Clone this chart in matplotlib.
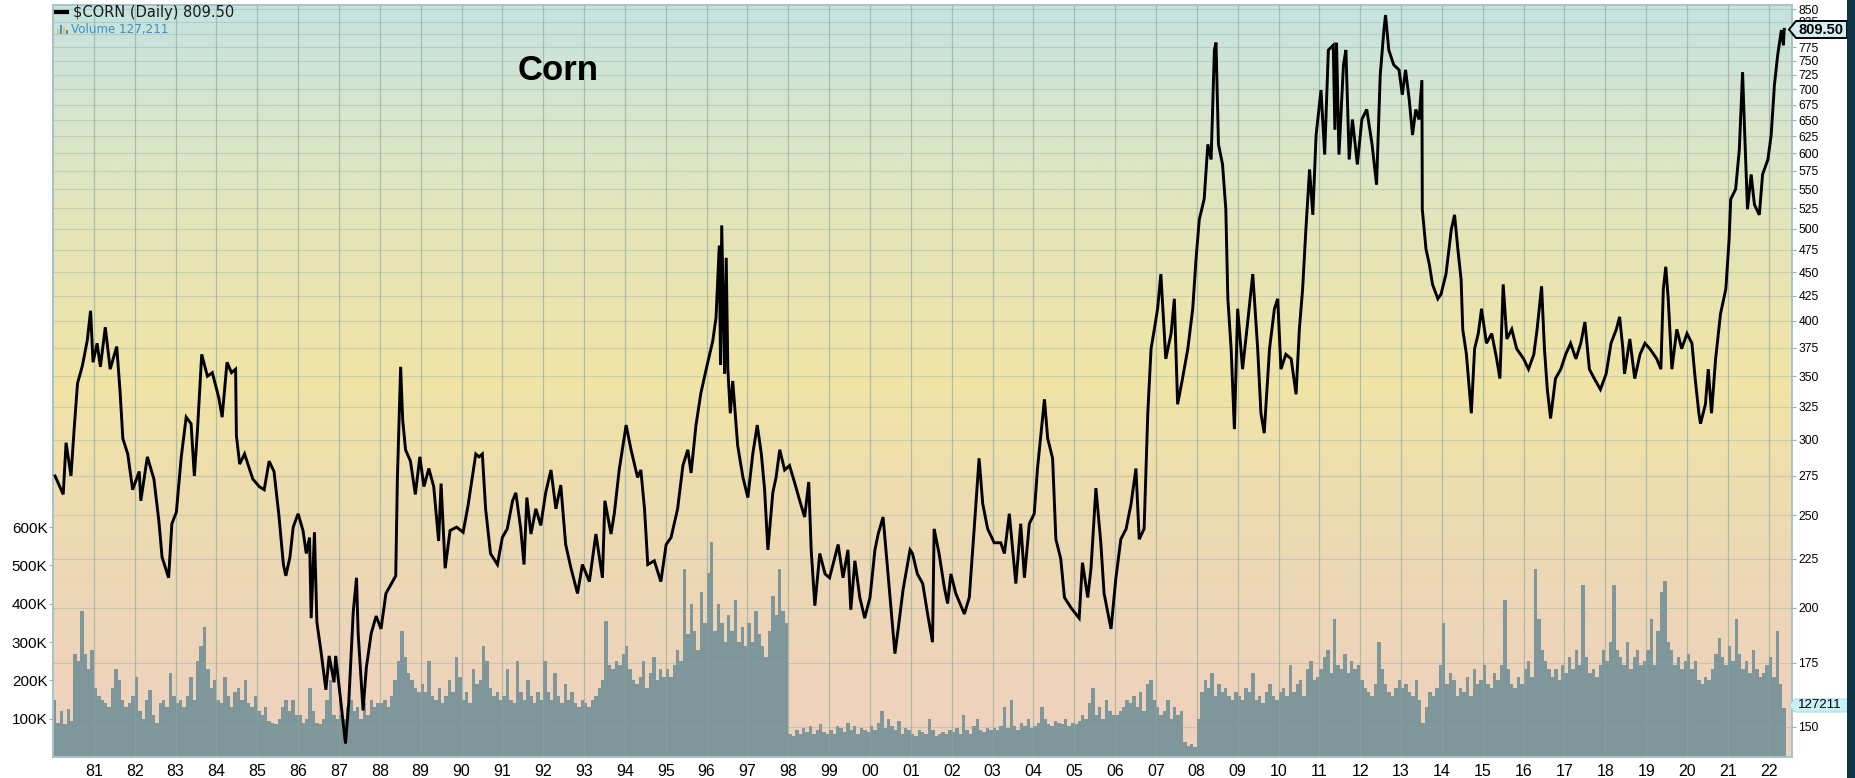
"""Corn daily price (log scale) with volume bars, StockCharts-style."""

import matplotlib
matplotlib.use("Agg")
import matplotlib.pyplot as plt
import numpy as np
from matplotlib.colors import LinearSegmentedColormap
from matplotlib.patches import Polygon, Rectangle
from matplotlib.ticker import FixedLocator, NullLocator, NullFormatter

W_PX, H_PX = 1855, 778

# --- price path (decimal year, cents/bushel) ---------------------------------
PRICE_T = [
    1980.05, 1980.25, 1980.32, 1980.44, 1980.52, 1980.60, 1980.72, 1980.84, 1980.92, 1980.98,
    1981.08, 1981.16, 1981.28, 1981.40, 1981.56, 1981.64, 1981.71, 1981.83, 1981.95,
    1982.11, 1982.15, 1982.31, 1982.47, 1982.59, 1982.67, 1982.83, 1982.91,
    1983.02, 1983.14, 1983.26, 1983.38, 1983.46, 1983.54, 1983.64, 1983.78, 1983.90,
    1984.06, 1984.14, 1984.26, 1984.37, 1984.47, 1984.49, 1984.57, 1984.69, 1984.89,
    1985.05, 1985.17, 1985.29, 1985.41, 1985.53, 1985.64, 1985.70, 1985.80, 1985.88,
    1986.00, 1986.12, 1986.20, 1986.28, 1986.32, 1986.40, 1986.46, 1986.56, 1986.68, 1986.76, 1986.88, 1986.92,
    1987.04, 1987.16, 1987.24, 1987.35, 1987.43, 1987.47, 1987.59, 1987.67, 1987.79, 1987.91,
    1988.03, 1988.15, 1988.31, 1988.39, 1988.43, 1988.51, 1988.56, 1988.63, 1988.75, 1988.87, 1988.98,
    1989.08, 1989.20, 1989.32, 1989.44, 1989.50, 1989.60, 1989.72, 1989.88,
    1990.04, 1990.16, 1990.35, 1990.43, 1990.51, 1990.59, 1990.71, 1990.88,
    1991.00, 1991.12, 1991.25, 1991.33, 1991.45, 1991.53, 1991.60, 1991.70, 1991.82, 1991.94,
    1992.06, 1992.19, 1992.31, 1992.43, 1992.55, 1992.68, 1992.84, 1992.96,
    1993.13, 1993.29, 1993.45, 1993.51, 1993.66, 1993.74, 1993.86,
    1994.03, 1994.15, 1994.31, 1994.39, 1994.48, 1994.56, 1994.72, 1994.88,
    1995.01, 1995.13, 1995.29, 1995.42, 1995.54, 1995.62, 1995.74, 1995.86, 1995.99,
    1996.15, 1996.23, 1996.31, 1996.34, 1996.37, 1996.44, 1996.48, 1996.52, 1996.58, 1996.64, 1996.76, 1996.89,
    1997.01, 1997.13, 1997.24, 1997.34, 1997.42, 1997.50, 1997.62, 1997.70, 1997.79, 1997.91,
    1998.03, 1998.15, 1998.28, 1998.40, 1998.50, 1998.56, 1998.65, 1998.77, 1998.90,
    1999.01, 1999.22, 1999.34, 1999.46, 1999.53, 1999.63, 1999.75, 1999.87,
    2000.00, 2000.12, 2000.20, 2000.32, 2000.44, 2000.61, 2000.69, 2000.81, 2000.98,
    2001.04, 2001.16, 2001.29, 2001.41, 2001.53, 2001.57, 2001.69, 2001.82, 2001.90, 2001.98,
    2002.10, 2002.31, 2002.43, 2002.55, 2002.67, 2002.76, 2002.88,
    2003.04, 2003.20, 2003.29, 2003.41, 2003.57, 2003.69, 2003.78, 2003.90,
    2004.02, 2004.10, 2004.27, 2004.35, 2004.47, 2004.55, 2004.67, 2004.76, 2004.92,
    2005.12, 2005.20, 2005.33, 2005.41, 2005.49, 2005.53, 2005.65, 2005.73, 2005.90,
    2006.02, 2006.14, 2006.27, 2006.39, 2006.51, 2006.59, 2006.71, 2006.80, 2006.88, 2006.96,
    2007.04, 2007.12, 2007.24, 2007.37, 2007.45, 2007.53, 2007.65, 2007.78, 2007.90, 2007.98,
    2008.06, 2008.18, 2008.27, 2008.35, 2008.43, 2008.47, 2008.53, 2008.63, 2008.71, 2008.76, 2008.84, 2008.92,
    2009.00, 2009.12, 2009.24, 2009.37, 2009.49, 2009.57, 2009.65, 2009.78, 2009.90, 2009.98,
    2010.06, 2010.18, 2010.31, 2010.43, 2010.51, 2010.59, 2010.67, 2010.76, 2010.84, 2010.92,
    2011.04, 2011.13, 2011.22, 2011.34, 2011.38, 2011.42, 2011.48, 2011.59, 2011.65, 2011.73, 2011.81, 2011.93,
    2012.04, 2012.16, 2012.29, 2012.40, 2012.45, 2012.49, 2012.58, 2012.62, 2012.70, 2012.82, 2012.95,
    2013.03, 2013.11, 2013.20, 2013.28, 2013.36, 2013.44, 2013.51, 2013.52, 2013.61, 2013.69, 2013.77, 2013.90, 2013.98,
    2014.10, 2014.23, 2014.31, 2014.39, 2014.47, 2014.51, 2014.60, 2014.72, 2014.80, 2014.89, 2014.97,
    2015.09, 2015.22, 2015.34, 2015.42, 2015.50, 2015.59, 2015.71, 2015.83,
    2016.00, 2016.12, 2016.25, 2016.33, 2016.44, 2016.51, 2016.58, 2016.66, 2016.78, 2016.91,
    2017.03, 2017.15, 2017.28, 2017.40, 2017.50, 2017.61, 2017.73, 2017.88,
    2018.02, 2018.14, 2018.27, 2018.35, 2018.43, 2018.47, 2018.60, 2018.72, 2018.85, 2018.97,
    2019.09, 2019.26, 2019.36, 2019.42, 2019.48, 2019.54, 2019.63, 2019.75, 2019.87,
    2020.00, 2020.12, 2020.20, 2020.29, 2020.33, 2020.45, 2020.52, 2020.60, 2020.70, 2020.82, 2020.95,
    2021.03, 2021.07, 2021.19, 2021.28, 2021.36, 2021.40, 2021.48, 2021.57, 2021.65, 2021.77, 2021.85, 2021.98,
    2022.06, 2022.14, 2022.22, 2022.31, 2022.36, 2022.38,
]
PRICE = [
    275, 263, 298, 275, 309, 344, 359, 382, 410, 362,
    379, 358, 394, 356, 376, 338, 301, 290, 266,
    278, 259, 288, 273, 247, 226, 215, 245,
    252, 288, 317, 312, 275, 309, 369, 350, 353,
    332, 317, 362, 353, 356, 303, 283, 290, 273,
    268, 266, 285, 278, 250, 222, 216, 226, 243,
    251, 241, 228, 237, 195, 240, 193, 180, 164, 178, 167, 178,
    160, 144, 159, 198, 215, 188, 156, 173, 188, 196,
    190, 207, 213, 216, 273, 358, 315, 293, 285, 263, 288,
    268, 280, 268, 235, 270, 220, 241, 243,
    240, 256, 290, 288, 290, 254, 228, 222,
    237, 242, 259, 264, 242, 222, 261, 239, 254, 244,
    264, 279, 254, 269, 233, 220, 207, 222,
    213, 239, 215, 259, 239, 251, 279,
    311, 293, 274, 279, 254, 222, 224, 213,
    233, 237, 254, 282, 293, 277, 311, 336, 356,
    381, 403, 480, 360, 504, 352, 466, 356, 320, 346, 296, 274,
    261, 290, 311, 290, 266, 230, 264, 274, 293, 279,
    282, 271, 259, 249, 271, 230, 201, 228, 217,
    215, 233, 215, 230, 199, 224, 205, 195,
    205, 230, 239, 249, 217, 179, 190, 209, 230,
    228, 217, 212, 197, 184, 242, 228, 210, 202, 217,
    207, 197, 205, 242, 287, 257, 242,
    234, 234, 228, 251, 212, 245, 215, 245,
    251, 280, 331, 301, 287, 236, 225, 205, 200,
    195, 223, 205, 220, 251, 267, 234, 207, 190,
    215, 236, 242, 257, 280, 236, 242, 320, 374, 392,
    412, 448, 365, 388, 422, 327, 348, 374, 412, 464,
    511, 537, 613, 591, 770, 784, 613, 584, 524, 422, 374, 308,
    412, 356, 397, 448, 374, 320, 305, 374, 412, 422,
    356, 369, 365, 335, 392, 432, 499, 577, 517, 627,
    699, 598, 770, 779, 635, 784, 598, 743, 770, 591, 651, 584,
    651, 667, 613, 556, 643, 725, 808, 838, 770, 743, 734,
    691, 734, 683, 627, 667, 651, 716, 524, 476, 459, 437, 422, 427,
    448, 499, 517, 476, 442, 392, 369, 320, 374, 388, 412,
    379, 388, 365, 348, 437, 383, 392, 374,
    365, 356, 369, 392, 435, 374, 339, 316, 348, 356,
    369, 379, 365, 379, 399, 356, 348, 339,
    352, 379, 392, 404, 374, 352, 383, 348, 369, 379,
    374, 365, 356, 432, 456, 422, 356, 392, 374,
    388, 379, 348, 320, 312, 327, 356, 320, 365, 407, 432,
    487, 537, 550, 605, 730, 651, 524, 570, 530, 517, 570, 591,
    627, 708, 761, 808, 779, 809.5,
]

# --- monthly volume in thousands of contracts, one row per year --------------
VOLUME_START = 1980.0
VOLUME_K = [
    [150, 90, 120, 85, 125, 95, 270, 250, 380, 270, 230, 280],    # 1980
    [180, 160, 150, 140, 130, 180, 230, 200, 150, 130, 140, 160],  # 1981
    [210, 120, 100, 150, 175, 110, 90, 140, 150, 130, 220, 160],   # 1982
    [140, 150, 130, 160, 210, 150, 250, 290, 340, 230, 180, 200],  # 1983
    [150, 140, 210, 160, 130, 170, 180, 150, 200, 140, 130, 160],  # 1984
    [120, 110, 130, 95, 90, 85, 100, 130, 150, 120, 150, 110],     # 1985
    [110, 90, 100, 180, 120, 90, 85, 100, 150, 200, 110, 100],     # 1986
    [110, 100, 130, 150, 120, 130, 100, 140, 110, 150, 130, 140],  # 1987
    [140, 150, 130, 160, 200, 250, 330, 260, 220, 200, 180, 170],  # 1988
    [190, 170, 250, 160, 150, 180, 140, 160, 200, 170, 260, 210],  # 1989
    [150, 170, 140, 230, 190, 200, 290, 250, 180, 160, 170, 150],  # 1990
    [160, 230, 150, 140, 250, 170, 150, 200, 160, 140, 170, 150],  # 1991
    [250, 170, 150, 220, 160, 140, 190, 150, 170, 140, 130, 150],  # 1992
    [140, 130, 150, 160, 180, 200, 355, 240, 230, 250, 240, 270],  # 1993
    [290, 230, 200, 190, 210, 250, 180, 220, 260, 200, 230, 210],  # 1994
    [230, 210, 240, 280, 250, 490, 320, 400, 330, 280, 430, 350],  # 1995
    [480, 560, 330, 400, 350, 300, 370, 330, 410, 300, 340, 290],  # 1996
    [350, 300, 380, 320, 290, 260, 330, 420, 370, 490, 380, 350],  # 1997
    [60, 55, 70, 60, 75, 65, 80, 60, 70, 85, 65, 60],              # 1998
    [70, 60, 80, 75, 65, 90, 70, 80, 60, 75, 70, 65],              # 1999
    [80, 70, 90, 120, 75, 100, 80, 70, 95, 60, 75, 70],            # 2000
    [60, 55, 70, 65, 60, 100, 70, 55, 60, 65, 60, 70],             # 2001
    [65, 75, 60, 110, 70, 60, 80, 100, 70, 65, 75, 70],            # 2002
    [75, 70, 80, 130, 75, 150, 80, 70, 90, 80, 100, 75],           # 2003
    [80, 90, 130, 100, 85, 80, 95, 90, 85, 100, 80, 90],           # 2004
    [85, 95, 110, 100, 140, 180, 110, 130, 100, 150, 120, 110],    # 2005
    [110, 120, 130, 150, 140, 160, 130, 170, 120, 190, 200, 150],  # 2006
    [130, 110, 120, 150, 100, 130, 110, 120, 40, 30, 35, 25],      # 2007
    [100, 170, 200, 180, 220, 160, 190, 170, 180, 160, 150, 170],  # 2008
    [160, 150, 180, 170, 220, 150, 160, 140, 170, 190, 160, 150],  # 2009
    [170, 180, 160, 240, 170, 190, 200, 160, 230, 250, 200, 210],  # 2010
    [230, 260, 280, 220, 360, 240, 230, 270, 220, 250, 230, 240],  # 2011
    [200, 180, 170, 160, 190, 300, 230, 190, 170, 160, 180, 200],  # 2012
    [180, 190, 170, 160, 200, 150, 90, 130, 170, 160, 180, 240],   # 2013
    [350, 190, 220, 200, 160, 180, 170, 210, 160, 230, 190, 200],  # 2014
    [240, 190, 180, 220, 200, 240, 410, 230, 190, 180, 210, 190],  # 2015
    [230, 250, 210, 490, 360, 280, 250, 230, 210, 230, 200, 240],  # 2016
    [220, 260, 230, 280, 240, 450, 260, 220, 230, 210, 240, 280],  # 2017
    [250, 300, 450, 280, 260, 240, 300, 230, 260, 280, 240, 250],  # 2018
    [280, 360, 240, 330, 430, 460, 300, 280, 240, 260, 230, 250],  # 2019
    [270, 230, 250, 200, 190, 210, 200, 230, 270, 310, 260, 240],  # 2020
    [290, 250, 360, 270, 230, 250, 220, 280, 230, 210, 220, 240],  # 2021
    [260, 210, 330, 190, 127],                                     # 2022
]

YEARS = list(range(1981, 2023))
PRICE_TICKS = list(range(150, 851, 25))
HIDDEN_TICKS = {800}          # sits under the last-price flag
VOL_TICKS = [100, 200, 300, 400, 500, 600]

LAST_PRICE = "809.50"
LAST_VOLUME = "127211"

# palette
BG_STOPS = [(0.0, "#efd1bf"), (0.25, "#ecd8b5"), (0.50, "#f0e4a6"),
            (0.72, "#e3e5bb"), (0.87, "#d5e5cf"), (1.0, "#c5e3e0")]
VOL_COLOR = "#7f979b"
GRID_COLOR = "#8aa69c"
FRAME_COLOR = "#a6c3c9"


def px(x, y):
    """pixel (from top-left) -> figure fraction"""
    return x / W_PX, 1 - y / H_PX


def main():
    fig = plt.figure(figsize=(W_PX / 100, H_PX / 100), dpi=100)
    fig.patch.set_facecolor("white")

    left, right, top, bottom = 53, 1792, 5, 757
    ax_v = fig.add_axes([left / W_PX, 1 - bottom / H_PX,
                         (right - left) / W_PX, (bottom - top) / H_PX])

    # gradient background
    cmap = LinearSegmentedColormap.from_list("bg", BG_STOPS)
    grad = np.linspace(0, 1, 256).reshape(-1, 1)
    ax_v.imshow(grad, cmap=cmap, origin="lower", aspect="auto",
                extent=(0, 1, 0, 1), transform=ax_v.transAxes, zorder=0)

    # volume bars
    vols = [v for row in VOLUME_K for v in row]
    vt = VOLUME_START + np.arange(len(vols)) / 12
    ax_v.bar(vt, vols, width=1 / 12, align="edge", color=VOL_COLOR,
             linewidth=0, zorder=1)

    ax_v.set_xlim(1980.0, 2022.57)
    ax_v.set_ylim(0, 1963)
    ax_v.set_xticks(YEARS)
    ax_v.set_xticklabels([f"{y % 100:02d}" for y in YEARS])
    ax_v.set_yticks(VOL_TICKS)
    ax_v.set_yticklabels([f"{v}K" for v in VOL_TICKS])
    ax_v.set_axisbelow(False)
    ax_v.grid(axis="x", color=GRID_COLOR, linewidth=0.9, alpha=0.6, zorder=2)
    ax_v.tick_params(axis="x", length=0, pad=5, labelsize=11.5)
    ax_v.tick_params(axis="y", length=3, width=0.8, color="#9ab",
                     pad=1, labelsize=11)
    for lab in ax_v.get_xticklabels() + ax_v.get_yticklabels():
        lab.set_fontfamily("Liberation Sans")

    # price on log scale, right axis
    ax_p = ax_v.twinx()
    ax_p.set_yscale("log")
    ax_p.set_ylim(139.4, 858.6)
    ax_p.yaxis.set_major_locator(FixedLocator(PRICE_TICKS))
    ax_p.set_yticklabels(["" if t in HIDDEN_TICKS else str(t)
                          for t in PRICE_TICKS])
    ax_p.yaxis.set_minor_locator(NullLocator())
    ax_p.yaxis.set_minor_formatter(NullFormatter())
    ax_p.set_axisbelow(True)
    ax_p.grid(axis="y", color=GRID_COLOR, linewidth=0.8, alpha=0.35)
    ax_p.tick_params(axis="y", length=3, width=0.8, color="#9ab",
                     pad=1.5, labelsize=8.7)
    for lab in ax_p.get_yticklabels():
        lab.set_fontfamily("Liberation Sans")
    ax_p.plot(PRICE_T, PRICE, color="black", linewidth=2.1, zorder=5,
              solid_joinstyle="miter")

    for ax in (ax_v, ax_p):
        for s in ax.spines.values():
            s.set_color(FRAME_COLOR)
            s.set_linewidth(1.2)

    # legend text, top-left
    fig.add_artist(plt.Line2D([56 / W_PX, 67 / W_PX], [1 - 12 / H_PX] * 2,
                              color="black", linewidth=3))
    fig.text(*px(73, 12), f"$CORN (Daily) {LAST_PRICE}", fontsize=10.5,
             family="DejaVu Sans", color="#1a1a1a", va="center", ha="left")
    for i, (c, h) in enumerate([("#e8c34a", 5), ("#4a90c8", 9),
                                ("#e8c34a", 7), ("#4a90c8", 4)]):
        fig.add_artist(Rectangle(px(57 + 3 * i, 34), 1.6 / W_PX, h / H_PX,
                                 transform=fig.transFigure, color=c, lw=0))
    fig.text(*px(71, 29), "Volume 127,211", fontsize=8.6,
             family="DejaVu Sans", color="#3d8fc4", va="center", ha="left")

    fig.text(*px(518, 71), "Corn", fontsize=25, fontweight="bold",
             family="Liberation Sans", va="center", ha="left")

    # last-value flags on the right axis
    flag = [(1789, 29.5), (1796, 21), (1847, 21), (1847, 38), (1796, 38)]
    fig.add_artist(Polygon([px(x, y) for x, y in flag], closed=True,
                           transform=fig.transFigure, facecolor="#d4eef0",
                           edgecolor="black", linewidth=1.4, zorder=10))
    fig.text(*px(1821, 29.5), LAST_PRICE, fontsize=10.5, fontweight="bold",
             family="Liberation Sans", ha="center", va="center", zorder=11)
    vflag = [(1789, 705.5), (1795, 699), (1848, 699), (1848, 712), (1795, 712)]
    fig.add_artist(Polygon([px(x, y) for x, y in vflag], closed=True,
                           transform=fig.transFigure, facecolor="#c9f1f6",
                           edgecolor="#a9dce4", linewidth=0.8, zorder=10))
    fig.text(*px(1820, 705.5), LAST_VOLUME, fontsize=9.5,
             family="Liberation Sans", ha="center", va="center", zorder=11)

    # dark strip at right edge
    fig.add_artist(Rectangle(px(1847, 778), 8 / W_PX, 1,
                             transform=fig.transFigure, color="#0d3446",
                             lw=0, zorder=12))

    fig.savefig("out.png", dpi=100)


if __name__ == "__main__":
    main()
